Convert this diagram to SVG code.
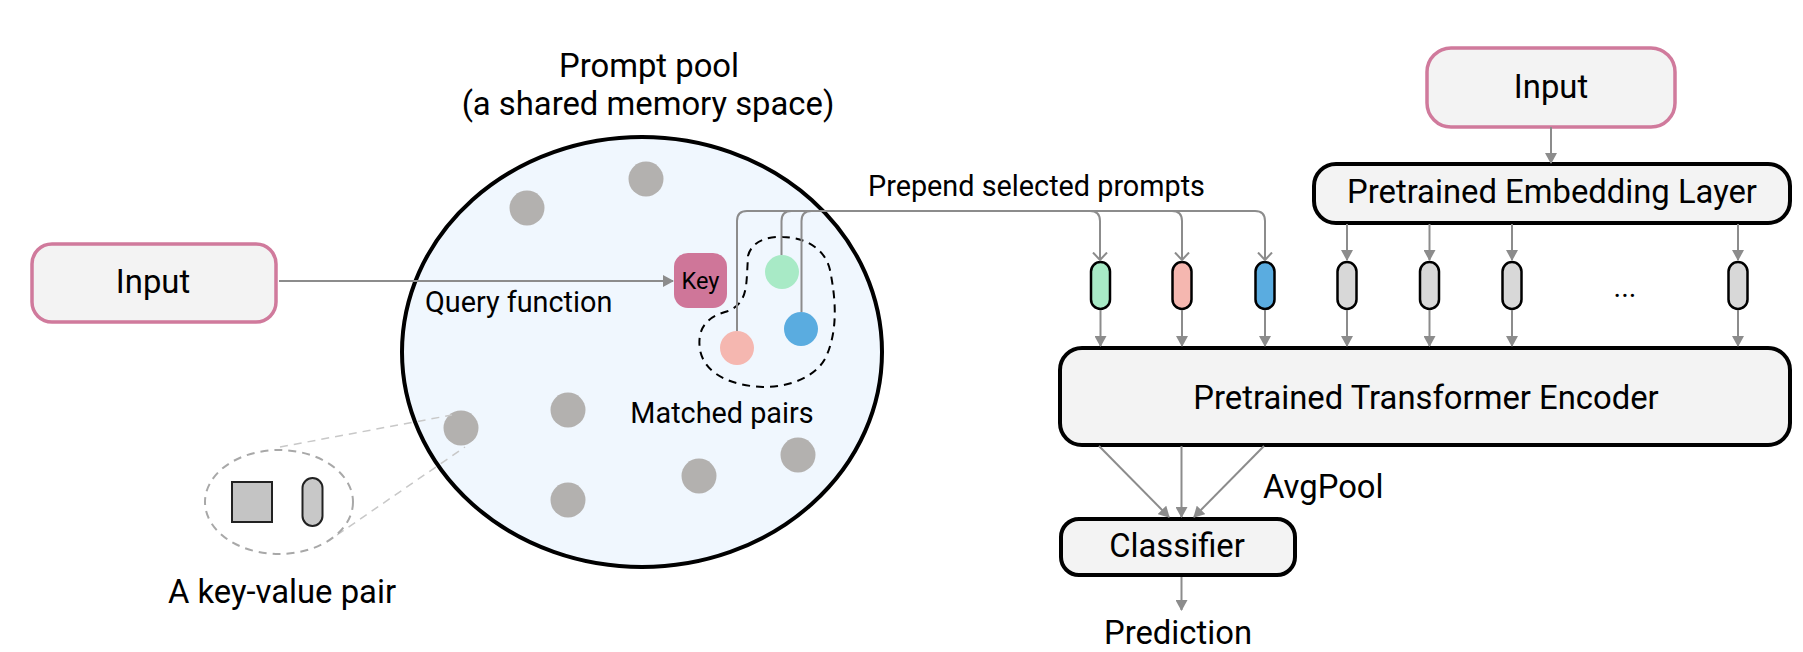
<svg xmlns="http://www.w3.org/2000/svg" width="1803" height="652" viewBox="0 0 1803 652">
<style>
  text { font-family: Roboto, "Liberation Sans", sans-serif; fill: #000; }
  .t32 { font-size: 32.8px; }
  .t28 { font-size: 28.8px; }
  .mid { text-anchor: middle; }
  .inbox { fill: #f3f3f3; stroke: #d07a9c; stroke-width: 3.5; }
  .blk { fill: #f3f3f3; stroke: #000; stroke-width: 4; }
  .dot { fill: #b3b1af; }
  .tok { stroke: #000; stroke-width: 2.5; }
  .conn { fill: none; stroke: #8c8c8c; stroke-width: 2; }
</style>
<defs>
  <marker id="tri" markerUnits="userSpaceOnUse" markerWidth="11" markerHeight="12" viewBox="0 0 11 12" refX="10" refY="6" orient="auto">
    <path d="M0,0 L11,6 L0,12 z" fill="#8c8c8c"/>
  </marker>
  <marker id="vee" markerUnits="userSpaceOnUse" markerWidth="10" markerHeight="16" viewBox="0 0 10 16" refX="8.5" refY="8" orient="auto">
    <path d="M1,1 L8.5,8 L1,15" fill="none" stroke="#8c8c8c" stroke-width="2"/>
  </marker>
</defs>

<g id="pool">
  <ellipse cx="642" cy="352" rx="240" ry="215" fill="#f0f7fe" stroke="#000" stroke-width="4"/>
  <text class="t32 mid" x="649" y="77">Prompt pool</text>
  <text class="t32 mid" x="648" y="115">(a shared memory space)</text>
  <circle class="dot" cx="527" cy="208" r="17.5"/>
  <circle class="dot" cx="646" cy="179" r="17.5"/>
  <circle class="dot" cx="461" cy="428" r="17.5"/>
  <circle class="dot" cx="568" cy="410" r="17.5"/>
  <circle class="dot" cx="568" cy="500" r="17.5"/>
  <circle class="dot" cx="699" cy="476" r="17.5"/>
  <circle class="dot" cx="798" cy="455" r="17.5"/>
  <text class="t28" x="425" y="312">Query function</text>
</g>

<g id="matched">
  <path d="M748,256 C752,240 770,236 783,237 C810,238 826,252 830,270 C836,300 838,330 826,357 C816,377 790,387 763,387 C735,386 705,376 700,350 C697,330 705,318 725,312 C745,306 746,290 747,275 Z" fill="none" stroke="#000" stroke-width="2" stroke-dasharray="8 6"/>
  <circle cx="782" cy="272" r="17" fill="#a8eac6"/>
  <circle cx="801" cy="329" r="17" fill="#5aace0"/>
  <circle cx="737" cy="348" r="17" fill="#f5b7b0"/>
  <text class="t28 mid" x="722" y="423">Matched pairs</text>
</g>

<g id="key">
  <rect x="674" y="253" width="53" height="55" rx="14" fill="#cf7699"/>
  <text class="mid" x="700.5" y="289" style="font-size:23.5px">Key</text>
</g>

<g id="input-left">
  <rect class="inbox" x="32" y="244" width="244" height="78" rx="20"/>
  <text class="t32 mid" x="153" y="293">Input</text>
</g>

<g id="kv-pair">
  <line x1="280" y1="447" x2="452" y2="415" stroke="#c8c8c8" stroke-width="1.5" stroke-dasharray="8 6"/>
  <line x1="337" y1="535" x2="465" y2="447" stroke="#c8c8c8" stroke-width="1.5" stroke-dasharray="8 6"/>
  <ellipse cx="279" cy="502" rx="74" ry="52" fill="#fff" stroke="#a8a8a8" stroke-width="2" stroke-dasharray="8 6"/>
  <rect x="232" y="482" width="40" height="40" fill="#c4c4c4" stroke="#222" stroke-width="2"/>
  <rect x="302.5" y="478" width="20" height="48" rx="10" fill="#c8c8c8" stroke="#222" stroke-width="2"/>
  <text class="t32 mid" x="282" y="603">A key-value pair</text>
</g>

<g id="input-right">
  <rect class="inbox" x="1427" y="48" width="248" height="79" rx="24"/>
  <text class="t32 mid" x="1551" y="98">Input</text>
</g>

<g id="embedding">
  <rect class="blk" x="1314" y="164" width="476" height="59" rx="22"/>
  <text class="t32 mid" x="1552" y="203">Pretrained Embedding Layer</text>
</g>

<g id="tokens">
  <rect class="tok" x="1091" y="262" width="19" height="47" rx="9.5" fill="#a8eac6"/>
  <rect class="tok" x="1172.5" y="262" width="19" height="47" rx="9.5" fill="#f5b7b0"/>
  <rect class="tok" x="1255.5" y="262" width="19" height="47" rx="9.5" fill="#5aace0"/>
  <rect class="tok" x="1337.5" y="262" width="19" height="47" rx="9.5" fill="#d8d8d8"/>
  <rect class="tok" x="1420" y="262" width="19" height="47" rx="9.5" fill="#d8d8d8"/>
  <rect class="tok" x="1502.5" y="262" width="19" height="47" rx="9.5" fill="#d8d8d8"/>
  <rect class="tok" x="1728.5" y="262" width="19" height="47" rx="9.5" fill="#d8d8d8"/>
  <text class="t28 mid" x="1625" y="297">...</text>
</g>

<g id="encoder">
  <rect class="blk" x="1060" y="348" width="730" height="97" rx="22"/>
  <text class="t32 mid" x="1426" y="409">Pretrained Transformer Encoder</text>
</g>

<g id="classifier">
  <rect class="blk" x="1061" y="519" width="234" height="56" rx="18"/>
  <text class="t32 mid" x="1177" y="557">Classifier</text>
</g>

<g id="labels">
  <text class="t28" x="868" y="196">Prepend selected prompts</text>
  <text class="t32" x="1263" y="498">AvgPool</text>
  <text class="t32 mid" x="1178" y="644">Prediction</text>
</g>

<g id="connectors">
  <line class="conn" x1="279" y1="281" x2="673" y2="281" marker-end="url(#tri)"/>
  <path class="conn" d="M737,331 V221 Q737,211 747,211 H1090 Q1100,211 1100,221 V260" marker-end="url(#vee)"/>
  <path class="conn" d="M781.5,255 V221 Q781.5,211 791.5,211 H1172 Q1182,211 1182,221 V260" marker-end="url(#vee)"/>
  <path class="conn" d="M801.5,312 V221 Q801.5,211 811.5,211 H1255 Q1265,211 1265,221 V260" marker-end="url(#vee)"/>
  <line class="conn" x1="1551" y1="127" x2="1551" y2="163" marker-end="url(#tri)"/>
  <line class="conn" x1="1347" y1="224" x2="1347" y2="260" marker-end="url(#tri)"/>
  <line class="conn" x1="1429.5" y1="224" x2="1429.5" y2="260" marker-end="url(#tri)"/>
  <line class="conn" x1="1512" y1="224" x2="1512" y2="260" marker-end="url(#tri)"/>
  <line class="conn" x1="1738" y1="224" x2="1738" y2="260" marker-end="url(#tri)"/>
  <line class="conn" x1="1100.5" y1="310" x2="1100.5" y2="346" marker-end="url(#tri)"/>
  <line class="conn" x1="1182" y1="310" x2="1182" y2="346" marker-end="url(#tri)"/>
  <line class="conn" x1="1265" y1="310" x2="1265" y2="346" marker-end="url(#tri)"/>
  <line class="conn" x1="1347" y1="310" x2="1347" y2="346" marker-end="url(#tri)"/>
  <line class="conn" x1="1429.5" y1="310" x2="1429.5" y2="346" marker-end="url(#tri)"/>
  <line class="conn" x1="1512" y1="310" x2="1512" y2="346" marker-end="url(#tri)"/>
  <line class="conn" x1="1738" y1="310" x2="1738" y2="346" marker-end="url(#tri)"/>
  <line class="conn" x1="1099" y1="446" x2="1169" y2="517" marker-end="url(#tri)"/>
  <line class="conn" x1="1181.5" y1="446" x2="1181.5" y2="517" marker-end="url(#tri)"/>
  <line class="conn" x1="1264" y1="446" x2="1194" y2="517" marker-end="url(#tri)"/>
  <line class="conn" x1="1181.5" y1="577" x2="1181.5" y2="610" marker-end="url(#tri)"/>
</g>
</svg>
